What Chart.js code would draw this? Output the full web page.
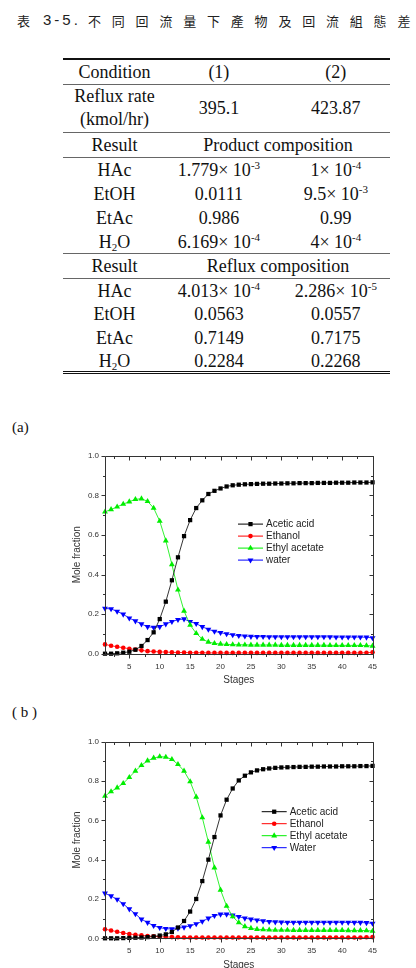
<!DOCTYPE html>
<html>
<head>
<meta charset="utf-8">
<script src="https://cdn.jsdelivr.net/npm/chart.js@4.4.0/dist/chart.umd.min.js"></script>
<style>
  body { margin: 0; width: 416px; height: 968px; overflow: hidden; background: #fff; position: relative; }
  #title { position: absolute; left: 0; top: 11px; height: 20px; width: 416px; color: #222; white-space: nowrap; }
  #title span { position: absolute; top: 0; line-height: 20px; }
  #title .t1 { left: 17px; font: 13px "Noto Sans CJK TC"; }
  #title .t2 { left: 43px; font: 15px "Liberation Sans"; letter-spacing: 3px; }
  #title .t3 { left: 88px; font: 13px "Noto Sans CJK TC"; letter-spacing: 10.8px; }
  #tbl { position: absolute; left: 63px; top: 58px; width: 327px; border-collapse: collapse;
         font: 18px "Liberation Serif"; color: #111; border-top: 2px solid #111; border-bottom: 3px double #111; }
  #tbl td { text-align: center; padding: 0; line-height: 20px; white-space: nowrap; }
  #tbl td.c3 { padding-left: 10px; }
  #tbl tr.hd { height: 25px; }
  #tbl tr.rr { height: 48px; }
  #tbl tr.rr td.lbl { line-height: 23px; }
  #tbl tr.v td { padding-top: 2px; }
  #tbl tr.v1 { height: 24px; }
  #tbl tr.v2 { height: 23.5px; }
  #tbl tr.line td { border-bottom: 1px solid #666; }
  #tbl sup { font-size: 11px; vertical-align: 7px; line-height: 0; }
  #tbl sub { font-size: 11px; vertical-align: -3px; line-height: 0; }
  .lab { position: absolute; left: 12px; font: 15px "Liberation Serif"; color: #111; }
  .box { position: absolute; left: 55px; width: 330px; height: 250px; }
</style>
</head>
<body>
<div id="title"><span class="t1">表</span><span class="t2">3-5.</span><span class="t3">不同回流量下產物及回流組態差</span></div>
<table id="tbl"></table>
<div class="lab" style="top:419px">(a)</div>
<div class="lab" style="top:704px">( b )</div>
<div class="box" style="top:445px"><canvas id="chartA"></canvas></div>
<div class="box" style="top:730px"><canvas id="chartB"></canvas></div>
<script>
// tabla
const conditions = ['(1)', '(2)'];
const refluxRates = ['395.1', '423.87'];
const components = ['HAc', 'EtOH', 'EtAc', 'H<sub>2</sub>O'];
const productComp1 = ['1.779× 10<sup>-3</sup>', '0.0111', '0.986', '6.169× 10<sup>-4</sup>'];
const productComp2 = ['1× 10<sup>-4</sup>', '9.5× 10<sup>-3</sup>', '0.99', '4× 10<sup>-4</sup>'];
const refluxComp1 = ['4.013× 10<sup>-4</sup>', '0.0563', '0.7149', '0.2284'];
const refluxComp2 = ['2.286× 10<sup>-5</sup>', '0.0557', '0.7175', '0.2268'];

// graficas
const stages = [1, 2, 3, 4, 5, 6, 7, 8, 9, 10, 11, 12, 13, 14, 15, 16, 17, 18, 19, 20, 21, 22, 23,
  24, 25, 26, 27, 28, 29, 30, 31, 32, 33, 34, 35, 36, 37, 38, 39, 40, 41, 42, 43, 44, 45];
const xTickVals = [5, 10, 15, 20, 25, 30, 35, 40, 45];
const yTickVals = [0, 0.2, 0.4, 0.6, 0.8, 1.0];

const aceticA = [0.000, 0.000, 0.002, 0.005, 0.010, 0.020, 0.039, 0.069, 0.108, 0.175, 0.263, 0.371, 0.487,
  0.594, 0.675, 0.736, 0.775, 0.807, 0.823, 0.835, 0.845, 0.851, 0.854, 0.856, 0.857, 0.858, 0.859, 0.859,
  0.860, 0.860, 0.861, 0.861, 0.862, 0.862, 0.862, 0.863, 0.863, 0.863, 0.864, 0.864, 0.864, 0.865, 0.865,
  0.865, 0.866];
const ethanolA = [0.047, 0.040, 0.035, 0.030, 0.025, 0.021, 0.017, 0.013, 0.011, 0.009, 0.008, 0.007, 0.006,
  0.006, 0.005, 0.005, 0.005, 0.004, 0.004, 0.004, 0.004, 0.004, 0.004, 0.004, 0.004, 0.004, 0.004, 0.004,
  0.004, 0.004, 0.004, 0.004, 0.004, 0.004, 0.004, 0.004, 0.004, 0.004, 0.004, 0.004, 0.004, 0.004, 0.004,
  0.005, 0.007];
const ethylAcA = [0.717, 0.729, 0.742, 0.756, 0.768, 0.780, 0.783, 0.770, 0.736, 0.670, 0.571, 0.451, 0.323,
  0.216, 0.145, 0.103, 0.074, 0.059, 0.052, 0.049, 0.047, 0.046, 0.045, 0.045, 0.044, 0.044, 0.044, 0.044,
  0.044, 0.043, 0.043, 0.043, 0.043, 0.043, 0.043, 0.043, 0.043, 0.042, 0.042, 0.042, 0.042, 0.042, 0.042,
  0.041, 0.039];
const waterA = [0.229, 0.226, 0.214, 0.199, 0.180, 0.165, 0.150, 0.136, 0.133, 0.136, 0.150, 0.162, 0.172,
  0.175, 0.162, 0.152, 0.136, 0.123, 0.113, 0.106, 0.100, 0.095, 0.091, 0.089, 0.087, 0.086, 0.086, 0.085,
  0.085, 0.085, 0.085, 0.085, 0.085, 0.085, 0.085, 0.085, 0.085, 0.085, 0.084, 0.084, 0.084, 0.084, 0.084,
  0.083, 0.080];

const aceticB = [0.000, 0.000, 0.000, 0.001, 0.002, 0.003, 0.004, 0.006, 0.009, 0.014, 0.020, 0.032, 0.055,
  0.088, 0.136, 0.200, 0.291, 0.400, 0.515, 0.625, 0.705, 0.762, 0.803, 0.827, 0.844, 0.854, 0.860, 0.864,
  0.867, 0.869, 0.870, 0.871, 0.872, 0.872, 0.873, 0.873, 0.874, 0.874, 0.874, 0.875, 0.875, 0.875, 0.876,
  0.876, 0.877];
const ethanolB = [0.046, 0.040, 0.033, 0.027, 0.022, 0.018, 0.015, 0.012, 0.010, 0.008, 0.007, 0.006, 0.005,
  0.004, 0.004, 0.004, 0.004, 0.004, 0.004, 0.004, 0.004, 0.004, 0.004, 0.004, 0.004, 0.004, 0.004, 0.004,
  0.004, 0.004, 0.004, 0.004, 0.004, 0.004, 0.004, 0.004, 0.004, 0.004, 0.004, 0.004, 0.004, 0.004, 0.004,
  0.005, 0.006];
const ethylAcB = [0.724, 0.746, 0.766, 0.788, 0.819, 0.851, 0.880, 0.903, 0.917, 0.924, 0.922, 0.910, 0.885,
  0.851, 0.797, 0.719, 0.614, 0.490, 0.359, 0.246, 0.164, 0.110, 0.080, 0.060, 0.051, 0.046, 0.044, 0.043,
  0.042, 0.042, 0.042, 0.041, 0.041, 0.041, 0.041, 0.041, 0.041, 0.041, 0.041, 0.041, 0.040, 0.040, 0.040,
  0.039, 0.037];
const waterB = [0.229, 0.215, 0.198, 0.175, 0.149, 0.124, 0.097, 0.080, 0.064, 0.054, 0.049, 0.047, 0.051,
  0.056, 0.063, 0.073, 0.086, 0.102, 0.115, 0.122, 0.122, 0.117, 0.110, 0.102, 0.097, 0.092, 0.088, 0.085,
  0.083, 0.082, 0.081, 0.081, 0.081, 0.081, 0.081, 0.081, 0.081, 0.081, 0.081, 0.081, 0.081, 0.080, 0.080,
  0.079, 0.076];

// construir la tabla
const tbl = document.getElementById('tbl');
function addRow(cls, cells) {
  const tr = document.createElement('tr');
  tr.className = cls;
  cells.forEach(c => {
    const td = document.createElement('td');
    td.innerHTML = c.html;
    if (c.cls) td.className = c.cls;
    if (c.span) td.colSpan = c.span;
    tr.appendChild(td);
  });
  tbl.appendChild(tr);
}
addRow('hd line', [{ html: 'Condition' }, { html: conditions[0] }, { html: conditions[1], cls: 'c3' }]);
addRow('rr line', [{ html: 'Reflux rate<br>(kmol/hr)', cls: 'lbl' }, { html: refluxRates[0] }, { html: refluxRates[1], cls: 'c3' }]);
addRow('hd line', [{ html: 'Result' }, { html: 'Product composition', span: 2 }]);
components.forEach((c, i) => {
  addRow(i === components.length - 1 ? 'v v1 line' : 'v v1',
    [{ html: c }, { html: productComp1[i] }, { html: productComp2[i], cls: 'c3' }]);
});
addRow('hd line', [{ html: 'Result' }, { html: 'Reflux composition', span: 2 }]);
components.forEach((c, i) => {
  addRow('v v2', [{ html: c }, { html: refluxComp1[i] }, { html: refluxComp2[i], cls: 'c3' }]);
});

// marco con marcas tipo Origin
const framePlugin = {
  id: 'frame',
  afterDatasetsDraw(chart) {
    const { ctx, chartArea: a, scales: { x, y } } = chart;
    const L = Math.round(a.left) + 0.5, R = Math.round(a.right) + 0.5;
    const T = Math.round(a.top) + 0.5, B = Math.round(a.bottom) + 0.5;
    ctx.save();
    ctx.strokeStyle = '#333';
    ctx.lineWidth = 1;
    ctx.beginPath();
    ctx.rect(L, T, R - L, B - T);
    for (let k = 0; k <= 10; k++) {
      const py = Math.round(y.getPixelForValue(k / 10)) + 0.5;
      const len = k % 2 ? 2.5 : 4;
      ctx.moveTo(L - len, py); ctx.lineTo(L, py);
      ctx.moveTo(R - len, py); ctx.lineTo(R, py);
    }
    for (let k = 1; k <= 18; k++) {
      const px = Math.round(x.getPixelForValue(k * 2.5)) + 0.5;
      const len = k % 2 ? 2.5 : 4;
      ctx.moveTo(px, T); ctx.lineTo(px, T + len);
      ctx.moveTo(px, B); ctx.lineTo(px, B + len);
    }
    ctx.stroke();
    ctx.restore();
  }
};

// leyenda dentro del area
const legendPlugin = {
  id: 'inLegend',
  afterDraw(chart, args, opts) {
    const { ctx, chartArea: a } = chart;
    ctx.save();
    chart.data.datasets.forEach((ds, i) => {
      const x0 = a.left + opts.x;
      const yy = a.top + opts.y + i * opts.gap;
      ctx.strokeStyle = ds.borderColor;
      ctx.lineWidth = 1;
      ctx.beginPath();
      ctx.moveTo(x0, yy); ctx.lineTo(x0 + 25, yy);
      ctx.stroke();
      ctx.fillStyle = ds.pointBackgroundColor;
      ctx.strokeStyle = ds.pointBackgroundColor;
      Chart.helpers.drawPoint(ctx, { pointStyle: ds.pointStyle, radius: ds.pointRadius, rotation: ds.pointRotation || 0, borderWidth: 0 }, x0 + 12.5, yy);
      ctx.fillStyle = '#222';
      ctx.font = '10px "Liberation Sans"';
      ctx.textBaseline = 'middle';
      ctx.fillText(ds.label, x0 + 28, yy + 0.5);
    });
    ctx.restore();
  }
};

function serie(label, vals, color, style, radius, rot) {
  return {
    label: label,
    data: stages.map((s, i) => ({ x: s, y: vals[i] })),
    borderColor: color,
    borderWidth: 0.8,
    pointBackgroundColor: color,
    pointBorderWidth: 0,
    pointStyle: style,
    pointRadius: radius,
    pointRotation: rot || 0,
    clip: false
  };
}

function makeChart(id, series, legendPos, padTop) {
  return new Chart(document.getElementById(id), {
    type: 'line',
    data: { datasets: series },
    options: {
      responsive: true,
      maintainAspectRatio: false,
      animation: false,
      layout: { padding: { top: padTop, right: 10, left: 0, bottom: 0 } },
      plugins: { legend: { display: false }, tooltip: { enabled: false }, inLegend: legendPos },
      scales: {
        x: {
          type: 'linear', min: 1, max: 45,
          grid: { display: false, drawTicks: false },
          border: { display: false },
          afterBuildTicks: s => { s.ticks = xTickVals.map(v => ({ value: v })); },
          afterFit: s => { s.height = 250 - padTop - legendPos.plotH; },
          ticks: { padding: 8, color: '#333', font: { size: 8, family: 'Liberation Sans' }, maxRotation: 0 },
          title: { display: true, text: 'Stages', color: '#333', font: { size: 10, family: 'Liberation Sans' }, padding: { top: 0, bottom: 9 } }
        },
        y: {
          min: 0, max: 1,
          grid: { display: false, drawTicks: false },
          border: { display: false },
          afterBuildTicks: s => { s.ticks = yTickVals.map(v => ({ value: v })); },
          afterFit: s => { s.width = 50; },
          ticks: { padding: 6, color: '#333', font: { size: 8, family: 'Liberation Sans' }, callback: v => v.toFixed(1) },
          title: { display: true, text: 'Mole fraction', color: '#333', font: { size: 10, family: 'Liberation Sans' }, padding: { top: 16, bottom: 0 } }
        }
      }
    },
    plugins: [framePlugin, legendPlugin]
  });
}

makeChart('chartA', [
  serie('Acetic acid', aceticA, '#000000', 'rect', 3),
  serie('Ethanol', ethanolA, '#ff0000', 'circle', 2.3),
  serie('Ethyl acetate', ethylAcA, '#00ee00', 'triangle', 3.4),
  serie('water', waterA, '#0000ff', 'triangle', 3.4, 180)
], { x: 133, y: 68.3, gap: 12, plotH: 198 }, 10.7);

makeChart('chartB', [
  serie('Acetic acid', aceticB, '#000000', 'rect', 3),
  serie('Ethanol', ethanolB, '#ff0000', 'circle', 2.3),
  serie('Ethyl acetate', ethylAcB, '#00ee00', 'triangle', 3.4),
  serie('Water', waterB, '#0000ff', 'triangle', 3.4, 180)
], { x: 156.7, y: 70, gap: 12, plotH: 196.6 }, 11.7);
</script>
</body>
</html>
